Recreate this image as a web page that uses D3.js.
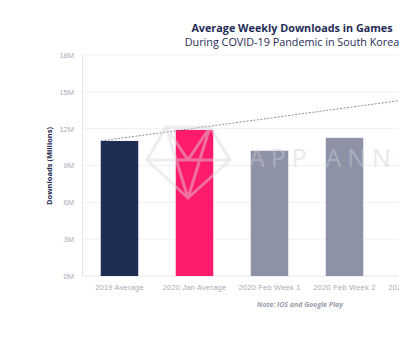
<!DOCTYPE html>
<meta charset="utf-8">
<style>
  body { margin: 0; background: #fff; }
  svg { display: block; font-family: "Open Sans", sans-serif; }
</style>
<svg width="399" height="342"></svg>
<script src="https://cdn.jsdelivr.net/npm/d3@7"></script>
<script>

var categories = ["2019 Average", "2020 Jan Average", "2020 Feb Week 1", "2020 Feb Week 2", "2020 Feb Week 3"];
var downloads = [11.0, 11.9, 10.2, 11.25, 14.3];   // millions per week
var barColors = ["#1f2c54", "#ff1b6b", "#8d92a6", "#8d92a6", "#8d92a6"];
var yTicks = [0, 3, 6, 9, 12, 15, 18];

var svg = d3.select("svg"),
    plotLeft = 82,
    plotTop = 55,
    plotBottom = 276;

var x = d3.scaleBand()
    .domain(categories)
    .range([plotLeft, plotLeft + 75 * categories.length])
    .paddingInner(0.5)
    .paddingOuter(0.25);

var y = d3.scaleLinear()
    .domain([0, 18])
    .range([plotBottom, plotTop]);

// light gridlines
svg.append("g")
  .selectAll("line")
  .data(yTicks)
  .join("line")
    .attr("x1", plotLeft)
    .attr("x2", 399)
    .attr("y1", function(d) { return y(d); })
    .attr("y2", function(d) { return y(d); })
    .attr("stroke", function(d) { return d === 0 ? "#e4e4e8" : "#f1f1f3"; })
    .attr("stroke-width", 1);

// y axis
var yAxis = svg.append("g")
    .attr("transform", "translate(" + plotLeft + ",0)")
    .call(d3.axisLeft(y).tickValues(yTicks).tickSize(0).tickPadding(8)
      .tickFormat(function(d) { return d + "M"; }));
yAxis.select(".domain").attr("stroke", "#e4e4e8");
yAxis.selectAll("text")
    .attr("fill", "#a9abb5")
    .attr("font-size", 7.5);

svg.append("text")
    .attr("transform", "translate(52,166) rotate(-90)")
    .attr("text-anchor", "middle")
    .attr("fill", "#1f2c54")
    .attr("font-size", 7.5)
    .attr("font-weight", "bold")
    .text("Downloads (Millions)");

// bars
svg.append("g")
  .selectAll("rect")
  .data(downloads)
  .join("rect")
    .attr("x", function(d, i) { return x(categories[i]); })
    .attr("y", function(d) { return y(d); })
    .attr("width", x.bandwidth())
    .attr("height", function(d) { return plotBottom - y(d); })
    .attr("fill", function(d, i) { return barColors[i]; });

// x axis labels
var xAxis = svg.append("g")
    .attr("transform", "translate(0," + plotBottom + ")")
    .call(d3.axisBottom(x).tickSize(0).tickPadding(9));
xAxis.select(".domain").remove();
xAxis.selectAll("text")
    .attr("fill", "#a9abb5")
    .attr("font-size", 7.5)
    .attr("letter-spacing", 0.2);

// dashed trend line from the 2019 average to the latest week
var last = downloads.length - 1;
svg.append("line")
    .attr("x1", x(categories[0]))
    .attr("y1", y(downloads[0]))
    .attr("x2", x(categories[last]))
    .attr("y2", y(downloads[last]))
    .attr("stroke", "#6e7080")
    .attr("stroke-width", 0.8)
    .attr("stroke-dasharray", "2,1.5");

// watermark
var wm = svg.append("g").attr("opacity", 0.45).attr("pointer-events", "none");
wm.append("path")
    .attr("d", "M166,127 L210,127 L230,160 L188,198 L147,160 Z M147,160 L230,160 M166,127 L188,198 L210,127 M166,127 L188,160 L210,127")
    .attr("fill", "none")
    .attr("stroke", "#d8d8de")
    .attr("stroke-width", 3)
    .attr("stroke-linejoin", "round");
wm.append("text")
    .attr("x", 249)
    .attr("y", 167)
    .attr("fill", "#cfcfd6")
    .attr("font-size", 25)
    .attr("letter-spacing", 6)
    .text("APP ANNIE");

// titles
svg.append("text")
    .attr("x", 292)
    .attr("y", 32)
    .attr("text-anchor", "middle")
    .attr("fill", "#1f2c54")
    .attr("font-size", 10.8)
    .attr("font-weight", "bold")
    .text("Average Weekly Downloads in Games");

svg.append("text")
    .attr("x", 292)
    .attr("y", 46)
    .attr("text-anchor", "middle")
    .attr("fill", "#1f2c54")
    .attr("font-size", 10.8)
    .text("During COVID-19 Pandemic in South Korea");

svg.append("text")
    .attr("x", 300)
    .attr("y", 307)
    .attr("text-anchor", "middle")
    .attr("fill", "#9a9cab")
    .attr("font-size", 7)
    .attr("font-style", "italic")
    .attr("font-weight", "bold")
    .text("Note: iOS and Google Play");

</script>
